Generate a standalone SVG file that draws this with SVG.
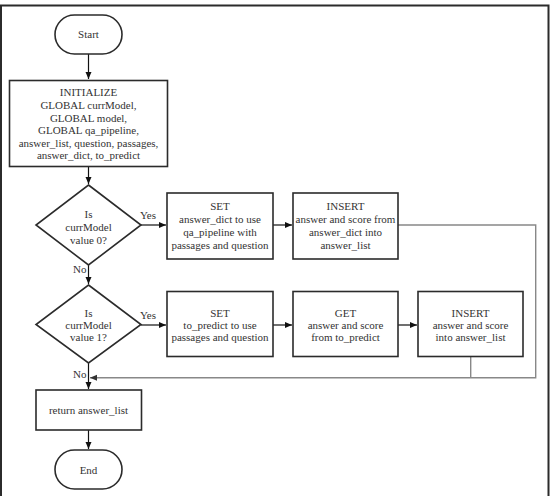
<svg xmlns="http://www.w3.org/2000/svg" width="552" height="496" viewBox="0 0 552 496">
<defs>
<marker id="ah" markerWidth="8" markerHeight="8" refX="7" refY="4" orient="auto" markerUnits="userSpaceOnUse">
<path d="M0,1 L7,4 L0,7 Z" fill="#111"/>
</marker>
<marker id="ahg" markerWidth="8" markerHeight="8" refX="7" refY="4" orient="auto" markerUnits="userSpaceOnUse">
<path d="M0,1 L7,4 L0,7 Z" fill="#333"/>
</marker>
<style>
.n{fill:#fff;stroke:#2b2b2b;stroke-width:1.6}
text{font-family:'Liberation Serif','DejaVu Serif','Times New Roman',serif;font-size:11px;fill:#333}
.t{text-anchor:middle}
.c{fill:none;stroke:#111;stroke-width:1.2}
.g{fill:none;stroke:#888;stroke-width:1.4}
</style>
</defs>
<rect x="0" y="0" width="552" height="496" fill="#fff"/>
<path d="M1,496 V5.5 H548.5 V496" fill="none" stroke="#2b2b2b" stroke-width="2"/>

<g id="connectors">
<path class="c" d="M88.5,54 V79" marker-end="url(#ah)"/>
<path class="c" d="M88.5,167 V184" marker-end="url(#ah)"/>
<path class="c" d="M141,225 H166" marker-end="url(#ah)"/>
<path class="c" d="M273,225 H292" marker-end="url(#ah)"/>
<path class="c" d="M88.5,265 V284" marker-end="url(#ah)"/>
<path class="c" d="M141,325 H166" marker-end="url(#ah)"/>
<path class="c" d="M273,325 H292" marker-end="url(#ah)"/>
<path class="c" d="M398,325 H417" marker-end="url(#ah)"/>
<path class="c" d="M88.5,363 V389" marker-end="url(#ah)"/>
<path class="c" d="M88.5,430 V449" marker-end="url(#ah)"/>
<path class="g" d="M398,225 H535.7 V377.8 H90" marker-end="url(#ahg)"/>
<path class="g" d="M470.7,357 V377.8"/>
<text x="140" y="219">Yes</text>
<text x="140" y="319">Yes</text>
<text x="73" y="273">No</text>
<text x="73" y="378">No</text>
</g>

<g id="start">
<rect class="n" x="55" y="15" width="67" height="39" rx="19.5"/>
<text class="t" x="88.5" y="38">Start</text>
</g>

<g id="init">
<rect class="n" x="9.5" y="80.5" width="158" height="86"/>
<text class="t" x="88.5" y="96">INITIALIZE</text>
<text class="t" x="88.5" y="109">GLOBAL currModel,</text>
<text class="t" x="88.5" y="121.5">GLOBAL model,</text>
<text class="t" x="88.5" y="134">GLOBAL qa_pipeline,</text>
<text class="t" x="88.5" y="147">answer_list, question, passages,</text>
<text class="t" x="88.5" y="159">answer_dict, to_predict</text>
</g>

<g id="dec0">
<path class="n" d="M88.5,185 L141,225 L88.5,265 L36,225 Z"/>
<text class="t" x="88.5" y="218">Is</text>
<text class="t" x="88.5" y="230.5">currModel</text>
<text class="t" x="88.5" y="243.5">value 0?</text>
</g>

<g id="set1">
<rect class="n" x="167" y="193" width="106" height="66"/>
<text class="t" x="220" y="210">SET</text>
<text class="t" x="220" y="223">answer_dict to use</text>
<text class="t" x="220" y="235.5">qa_pipeline with</text>
<text class="t" x="220" y="248.5">passages and question</text>
</g>

<g id="insert1">
<rect class="n" x="293" y="193" width="105" height="66"/>
<text class="t" x="345.5" y="210">INSERT</text>
<text class="t" x="345.5" y="223">answer and score from</text>
<text class="t" x="345.5" y="235.5">answer_dict into</text>
<text class="t" x="345.5" y="248.5">answer_list</text>
</g>

<g id="dec1">
<path class="n" d="M88.5,285 L141,324.5 L88.5,363 L36,324.5 Z"/>
<text class="t" x="88.5" y="316.5">Is</text>
<text class="t" x="88.5" y="329">currModel</text>
<text class="t" x="88.5" y="341">value 1?</text>
</g>

<g id="set2">
<rect class="n" x="167" y="291.5" width="106" height="65"/>
<text class="t" x="220" y="316.5">SET</text>
<text class="t" x="220" y="329">to_predict to use</text>
<text class="t" x="220" y="341">passages and question</text>
</g>

<g id="get">
<rect class="n" x="293" y="291.5" width="105" height="65"/>
<text class="t" x="345.5" y="316.5">GET</text>
<text class="t" x="345.5" y="329">answer and score</text>
<text class="t" x="345.5" y="341">from to_predict</text>
</g>

<g id="insert2">
<rect class="n" x="418" y="291.5" width="105" height="65"/>
<text class="t" x="470.5" y="316.5">INSERT</text>
<text class="t" x="470.5" y="329">answer and score</text>
<text class="t" x="470.5" y="341">into answer_list</text>
</g>

<g id="return">
<rect class="n" x="36" y="390" width="105.5" height="40"/>
<text class="t" x="88.5" y="414">return answer_list</text>
</g>

<g id="end">
<rect class="n" x="55" y="450" width="67" height="39" rx="19.5"/>
<text class="t" x="88.5" y="473.5">End</text>
</g>
</svg>
